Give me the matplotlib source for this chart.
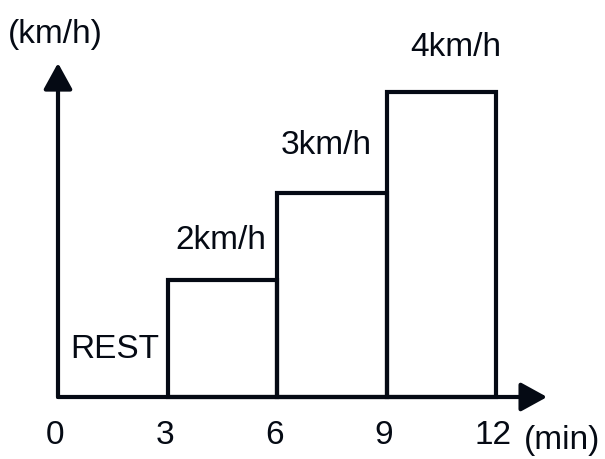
import matplotlib.pyplot as plt

# data
starts = [3, 6, 9]              # minute where each walking phase starts
durations = [3, 3, 3]           # minutes
heights = [1.17, 2.04, 3.05]    # drawn bar heights (arbitrary units)
speed_labels = ["2km/h", "3km/h", "4km/h"]
ticks = [0, 3, 6, 9, 12]

ink = "#050a14"
plt.rcParams['font.family'] = ['Liberation Sans', 'DejaVu Sans']

fig = plt.figure(figsize=(6.05, 4.59), dpi=100)
ax = fig.add_axes([0, 0, 1, 1])
ax.axis('off')
# pixel mapping: x = 58 + 36.5*t, y = 397 - 100*v
ax.set_xlim(-58 / 36.5, (605 - 58) / 36.5)
ax.set_ylim(-(459 - 397) / 100, 397 / 100)

ax.bar(starts, heights, width=durations, align='edge', fill=False,
       edgecolor=ink, linewidth=3)

# axes with arrows
arrow = dict(arrowstyle='-|>,head_length=0.4,head_width=0.22', mutation_scale=40,
             lw=3, color=ink, shrinkA=0, shrinkB=0)
ax.annotate('', xy=(13.4, 0), xytext=(0, 0), arrowprops=arrow)
ax.annotate('', xy=(0, 3.34), xytext=(0, 0), arrowprops=arrow)

fs = 24
for t in ticks:
    ax.text(t - 0.08, -0.39, str(t), ha='center', va='center', fontsize=fs, color=ink)
ax.text(14.85, -0.43, "(min)", ha='right', va='center', fontsize=fs, color=ink)
ax.text(-1.38, 3.62, "(km/h)", ha='left', va='center', fontsize=fs, color=ink)

label_x = [4.47, 7.35, 10.9]
label_dy = [0.40, 0.48, 0.44]
for x, h, dy, s in zip(label_x, heights, label_dy, speed_labels):
    ax.text(x, h + dy, s, ha='center', va='center', fontsize=fs, color=ink)
ax.text(1.55, 0.47, "REST", ha='center', va='center', fontsize=fs, color=ink)

plt.savefig("out.png", dpi=100)
